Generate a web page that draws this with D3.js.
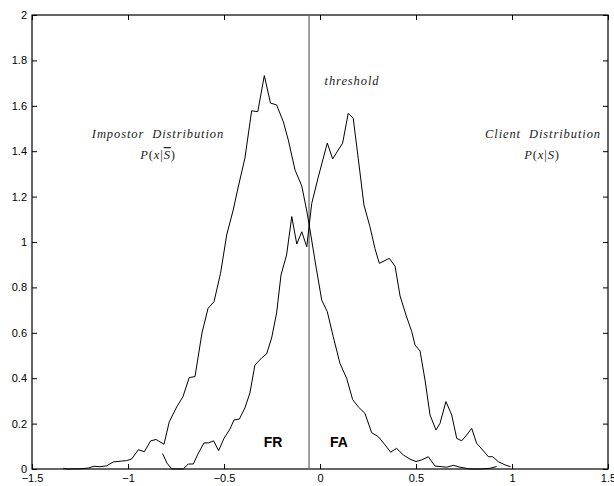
<!DOCTYPE html>
<html>
<head>
<meta charset="utf-8">
<script src="https://cdn.jsdelivr.net/npm/d3@7"></script>
<style>
  html, body { margin: 0; padding: 0; background: #fff; }
  svg { display: block; }
</style>
</head>
<body>
<div id="chart"></div>
<script>
// ---- data ----
const impostorX = [-1.337,-1.319,-1.25,-1.207,-1.177,-1.146,-1.111,-1.077,-1.033,-1.007,-0.981,-0.946,-0.915,-0.882,-0.854,-0.842,-0.8125,-0.785,-0.746,-0.714,-0.681,-0.651,-0.615,-0.583,-0.552,-0.518,-0.486,-0.452,-0.426,-0.391,-0.356,-0.324,-0.290,-0.258,-0.226,-0.191,-0.165,-0.130,-0.095,-0.069,-0.052,-0.035,-0.018,0.009,0.038,0.069,0.104,0.139,0.170,0.199,0.234,0.269,0.304,0.339,0.368,0.399,0.434,0.469,0.500,0.530,0.564,0.599,0.660,0.694,0.729,0.781,0.833,0.885,0.920];
const impostorY = [0.003,0,0.001,0.004,0.012,0.010,0.014,0.031,0.035,0.037,0.044,0.085,0.076,0.124,0.130,0.124,0.109,0.208,0.274,0.318,0.403,0.407,0.598,0.708,0.737,0.862,1.031,1.141,1.242,1.370,1.578,1.574,1.733,1.612,1.604,1.530,1.449,1.317,1.247,1.137,1.053,0.965,0.877,0.744,0.693,0.583,0.465,0.399,0.306,0.274,0.245,0.160,0.142,0.106,0.074,0.091,0.062,0.043,0.033,0.040,0.054,0.013,0.008,0.016,0.008,0,0,0.003,0.011];

const clientX = [-0.820,-0.797,-0.772,-0.712,-0.686,-0.660,-0.634,-0.604,-0.581,-0.554,-0.528,-0.500,-0.469,-0.448,-0.420,-0.391,-0.365,-0.339,-0.304,-0.278,-0.252,-0.226,-0.203,-0.174,-0.147,-0.121,-0.095,-0.069,-0.043,-0.009,0.038,0.066,0.118,0.147,0.173,0.199,0.229,0.260,0.286,0.309,0.361,0.391,0.417,0.448,0.478,0.495,0.521,0.547,0.573,0.604,0.625,0.656,0.686,0.712,0.738,0.764,0.790,0.816,0.847,0.877,0.900,0.929,0.964,0.993];
const clientY = [0.068,0.026,0,0,0.022,0.022,0.069,0.115,0.115,0.124,0.081,0.135,0.176,0.216,0.220,0.269,0.335,0.458,0.489,0.507,0.577,0.687,0.855,0.943,1.112,0.991,1.045,0.979,1.170,1.286,1.436,1.366,1.436,1.567,1.545,1.369,1.163,1.068,0.972,0.906,0.928,0.893,0.762,0.678,0.605,0.546,0.520,0.392,0.238,0.172,0.201,0.297,0.238,0.135,0.124,0.150,0.179,0.113,0.084,0.054,0.054,0.032,0.018,0.010];

const thresholdX = -0.057;
const xTicks = [-1.5,-1,-0.5,0,0.5,1,1.5];
const yTicks = [0,0.2,0.4,0.6,0.8,1,1.2,1.4,1.6,1.8,2];
const xDomain = [-1.5, 1.5];
const yDomain = [0, 2];

(function () {
// ---- layout ----
const W = 614, H = 486;
const mLeft = 32, mRight = 608, mTop = 15, mBottom = 469;

const svg = d3.select("#chart").append("svg")
  .attr("width", W).attr("height", H);

const x = d3.scaleLinear().domain(xDomain).range([mLeft, mRight]);
const y = d3.scaleLinear().domain(yDomain).range([mBottom, mTop]);

const fmt = d3.format("~g");
const tickFont = "'Liberation Sans', Arial, Helvetica, sans-serif";

function styleAxis(g, labels) {
  g.select(".domain").remove();
  g.selectAll(".tick line").attr("stroke", "#000").attr("stroke-width", 1);
  g.selectAll(".tick text")
    .attr("fill", "#000")
    .style("font-family", tickFont)
    .style("font-size", "11px");
  if (!labels) g.selectAll(".tick text").remove();
}

// bottom
svg.append("g").attr("transform", `translate(0,${mBottom})`)
  .call(d3.axisBottom(x).tickValues(xTicks).tickFormat(fmt).tickSizeInner(-5).tickSizeOuter(0).tickPadding(5))
  .call(g => styleAxis(g, true));
// top
svg.append("g").attr("transform", `translate(0,${mTop})`)
  .call(d3.axisTop(x).tickValues(xTicks).tickSizeInner(-5).tickSizeOuter(0))
  .call(g => styleAxis(g, false));
// left
svg.append("g").attr("transform", `translate(${mLeft},0)`)
  .call(d3.axisLeft(y).tickValues(yTicks).tickFormat(fmt).tickSizeInner(-5).tickSizeOuter(0).tickPadding(5))
  .call(g => styleAxis(g, true));
// right
svg.append("g").attr("transform", `translate(${mRight},0)`)
  .call(d3.axisRight(y).tickValues(yTicks).tickSizeInner(-5).tickSizeOuter(0))
  .call(g => styleAxis(g, false));

// frame
svg.append("rect")
  .attr("x", x(xDomain[0])).attr("y", y(yDomain[1]))
  .attr("width", x(xDomain[1]) - x(xDomain[0]))
  .attr("height", y(yDomain[0]) - y(yDomain[1]))
  .attr("fill", "none").attr("stroke", "#000").attr("stroke-width", 1.2);

// threshold line
svg.append("line")
  .attr("x1", x(thresholdX)).attr("x2", x(thresholdX))
  .attr("y1", y(yDomain[0])).attr("y2", y(yDomain[1]))
  .attr("stroke", "#6e6e6e").attr("stroke-width", 1.3);

// curves
const line = d3.line().x(d => x(d[0])).y(d => y(d[1]));
const impostor = d3.zip(impostorX, impostorY);
const client = d3.zip(clientX, clientY);

svg.append("path").datum(impostor)
  .attr("d", line).attr("fill", "none").attr("stroke", "#000").attr("stroke-width", 1);
svg.append("path").datum(client)
  .attr("d", line).attr("fill", "none").attr("stroke", "#000").attr("stroke-width", 1);

// annotations
const serif = "'Liberation Serif', 'DejaVu Serif', serif";
const fs = "12.5px", ls = "0.9px";
function itText(tx, ty, str) {
  return svg.append("text")
    .attr("x", tx).attr("y", ty)
    .attr("text-anchor", "middle")
    .style("font-family", serif)
    .style("font-style", "italic")
    .style("font-size", fs)
    .style("letter-spacing", ls)
    .attr("fill", "#222")
    .text(str);
}
function mathText(tx, ty, bar) {
  const t = svg.append("text")
    .attr("x", tx).attr("y", ty).attr("text-anchor", "middle")
    .style("font-family", serif).style("font-size", fs)
    .style("letter-spacing", ls).attr("fill", "#222");
  t.append("tspan").text("P").style("font-style", "italic");
  t.append("tspan").text("(");
  t.append("tspan").text("x").style("font-style", "italic");
  t.append("tspan").text("|");
  const s = t.append("tspan").text("S").style("font-style", "italic");
  if (bar) s.style("text-decoration", "overline");
  t.append("tspan").text(")");
  return t;
}

itText(158, 138, "Impostor\u00A0\u00A0Distribution");
mathText(158, 159, true);

itText(352, 85, "threshold");

itText(543, 138, "Client\u00A0\u00A0Distribution");
mathText(542, 159, false);

const bold = "'Liberation Sans', Arial, Helvetica, sans-serif";
svg.append("text").attr("x", 273).attr("y", 447).attr("text-anchor", "middle")
  .style("font-family", bold).style("font-weight", "bold").style("font-size", "14px")
  .attr("fill", "#000").text("FR");
svg.append("text").attr("x", 339).attr("y", 447).attr("text-anchor", "middle")
  .style("font-family", bold).style("font-weight", "bold").style("font-size", "14px")
  .attr("fill", "#000").text("FA");
})();
</script>
</body>
</html>
